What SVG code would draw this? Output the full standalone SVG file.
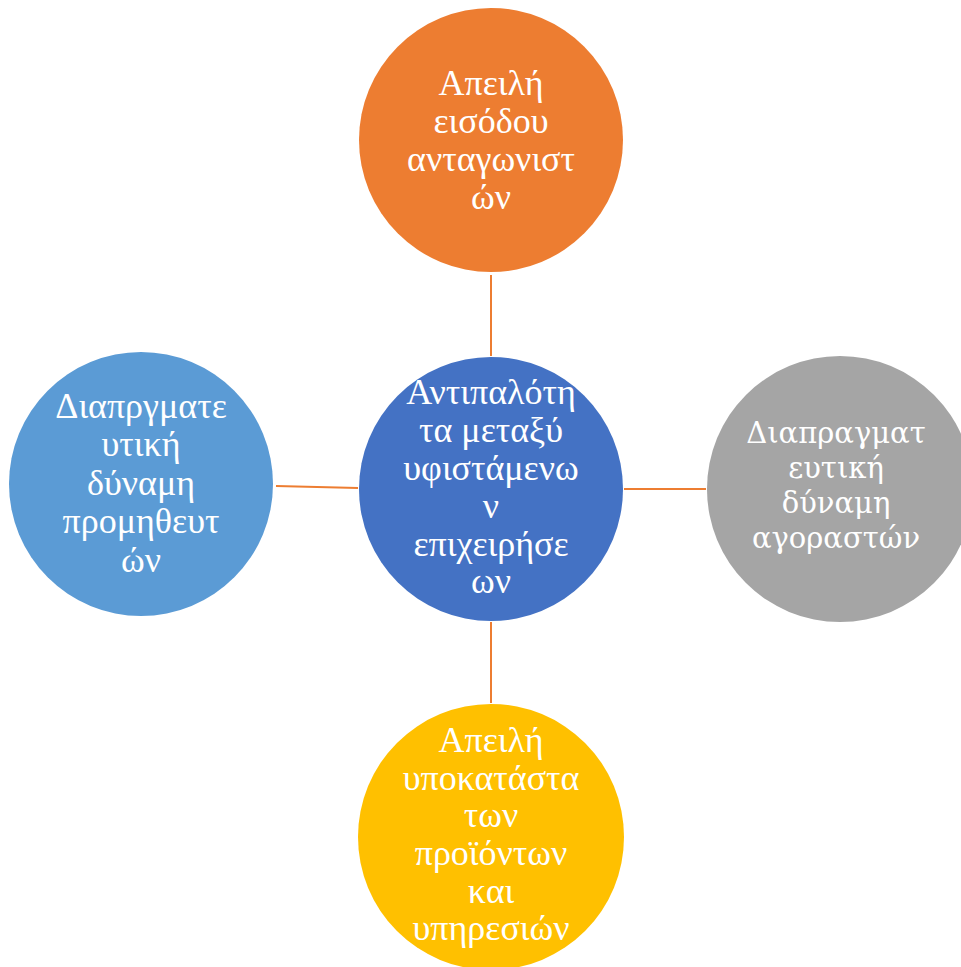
<svg xmlns="http://www.w3.org/2000/svg" width="961" height="967" viewBox="0 0 961 967">
<style>
.t{font-family:"Liberation Serif","Times New Roman",serif;font-size:36px;fill:#fff;text-anchor:middle}
.r{font-family:"DejaVu Serif","Liberation Serif",serif;font-size:29px;fill:#fff;text-anchor:middle}
.c{stroke:#ED7D31;stroke-width:2;fill:none}
</style>
<rect width="961" height="967" fill="#fff"/>
<g id="connectors">
<line class="c" x1="491" y1="275" x2="491" y2="356"/>
<line class="c" x1="276" y1="486" x2="358" y2="488"/>
<line class="c" x1="624" y1="489" x2="706" y2="489"/>
<line class="c" x1="491" y1="622" x2="491" y2="703"/>
</g>
<g id="node-top">
<circle cx="491" cy="140" r="132" fill="#ED7D31"/>
<text class="t" x="491" y="95">Απειλή</text>
<text class="t" x="491" y="133">εισόδου</text>
<text class="t" x="491" y="171">ανταγωνιστ</text>
<text class="t" x="491" y="209">ών</text>
</g>
<g id="node-center">
<circle cx="491" cy="489" r="132" fill="#4472C4"/>
<text class="t" x="491" y="404">Αντιπαλότη</text>
<text class="t" x="491" y="442">τα μεταξύ</text>
<text class="t" x="491" y="480">υφιστάμενω</text>
<text class="t" x="491" y="518">ν</text>
<text class="t" x="491" y="556">επιχειρήσε</text>
<text class="t" x="491" y="593">ων</text>
</g>
<g id="node-left">
<circle cx="141" cy="484" r="132" fill="#5B9BD5"/>
<text class="t" x="141" y="418">Διαπργματε</text>
<text class="t" x="141" y="456">υτική</text>
<text class="t" x="141" y="495">δύναμη</text>
<text class="t" x="141" y="533">προμηθευτ</text>
<text class="t" x="141" y="572">ών</text>
</g>
<g id="node-right">
<circle cx="840" cy="489" r="133" fill="#A5A5A5"/>
<text class="r" x="836" y="443">Διαπραγματ</text>
<text class="r" x="836" y="478">ευτική</text>
<text class="r" x="836" y="513">δύναμη</text>
<text class="r" x="836" y="548">αγοραστών</text>
</g>
<g id="node-bottom">
<circle cx="491" cy="837" r="133" fill="#FFC000"/>
<text class="t" x="491" y="752">Απειλή</text>
<text class="t" x="491" y="790">υποκατάστα</text>
<text class="t" x="491" y="827">των</text>
<text class="t" x="491" y="865">προϊόντων</text>
<text class="t" x="491" y="903">και</text>
<text class="t" x="491" y="940">υπηρεσιών</text>
</g>
</svg>
